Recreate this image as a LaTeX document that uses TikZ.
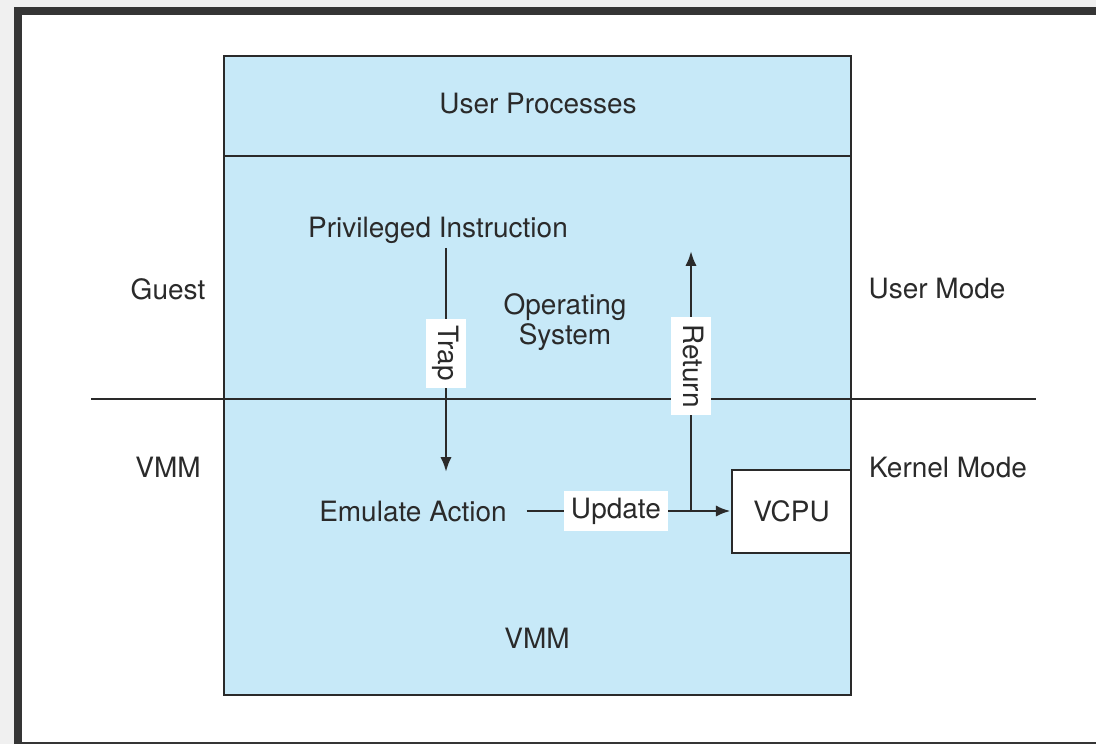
\documentclass[tikz,border=0pt]{standalone}
\usepackage{fontspec}
\setmainfont{TeX Gyre Heros}
\usetikzlibrary{arrows.meta}
\definecolor{vmblue}{HTML}{C7E9F8}
\definecolor{inkgray}{HTML}{2A2A2A}
\tikzset{
  lbl/.style={text=inkgray, font=\fontsize{19.9}{21.3}\selectfont, inner sep=0pt},
  tag/.style={lbl, fill=white, text height=14.7pt, text depth=4.4pt, inner xsep=5pt, inner ysep=4.5pt},
  wire/.style={draw=inkgray, line width=1.9pt},
  arr/.style={wire, -{Latex[length=10.5pt,width=8pt]}},
}

\begin{document}
\begin{tikzpicture}[x=0.025cm, y=-0.025cm]
				\useasboundingbox (0,0) rectangle (1096,744);
				
				% screenshot frame
				\fill[black!6] (0,0) rectangle (1096,744);
				\fill[inkgray!95!white] (14,7) rectangle (1096,744);
				\fill[white] (22,15) rectangle (1096,742);
				
				% the machine
				\draw[wire, fill=vmblue] (224,56) rectangle (851,695);
				\draw[wire] (224,156) -- (851,156);
				\draw[wire] (91,399) -- (1036,399);
				
				\node[lbl] (user) at (538,104) {User Processes};
				\node[lbl, inner ysep=3pt] (priv) at (438,230) {Privileged Instruction};
				\node[lbl, align=center] (os) at (565,322) {Operating\\System};
				\node[lbl] (guest) at (168,289) {Guest};
				\node[lbl] (usermode) at (937,289) {User Mode};
				\node[lbl] (vmmside) at (168,467) {VMM};
				\node[lbl] (kernelmode) at (948,467) {Kernel Mode};
				\node[lbl] (emul) at (413,511) {Emulate Action};
				\node[lbl] (vmm) at (537,638) {VMM};
				\node[lbl, draw=inkgray, line width=1.9pt, fill=white, minimum width=2.975cm, minimum height=2.075cm] (vcpu) at (791.5,511.5) {VCPU};
				
				\coordinate (trapend) at (446,472);
				\coordinate (retfoot) at (691,512);
				\coordinate (rettop) at (691,251);
				
				% trap, update, return
				\draw[arr] (priv.south -| trapend) -- (trapend) node[tag, rotate=-90, pos=0.47] {Trap};
				\draw[arr, shorten <=14pt] (emul.east) -- (emul.east -| vcpu.west) node[tag, pos=0.487] {Update};
				\draw[arr] (retfoot) -- (rettop) node[tag, rotate=-90, pos=0.56] {Return};
			\end{tikzpicture}
\end{document}
